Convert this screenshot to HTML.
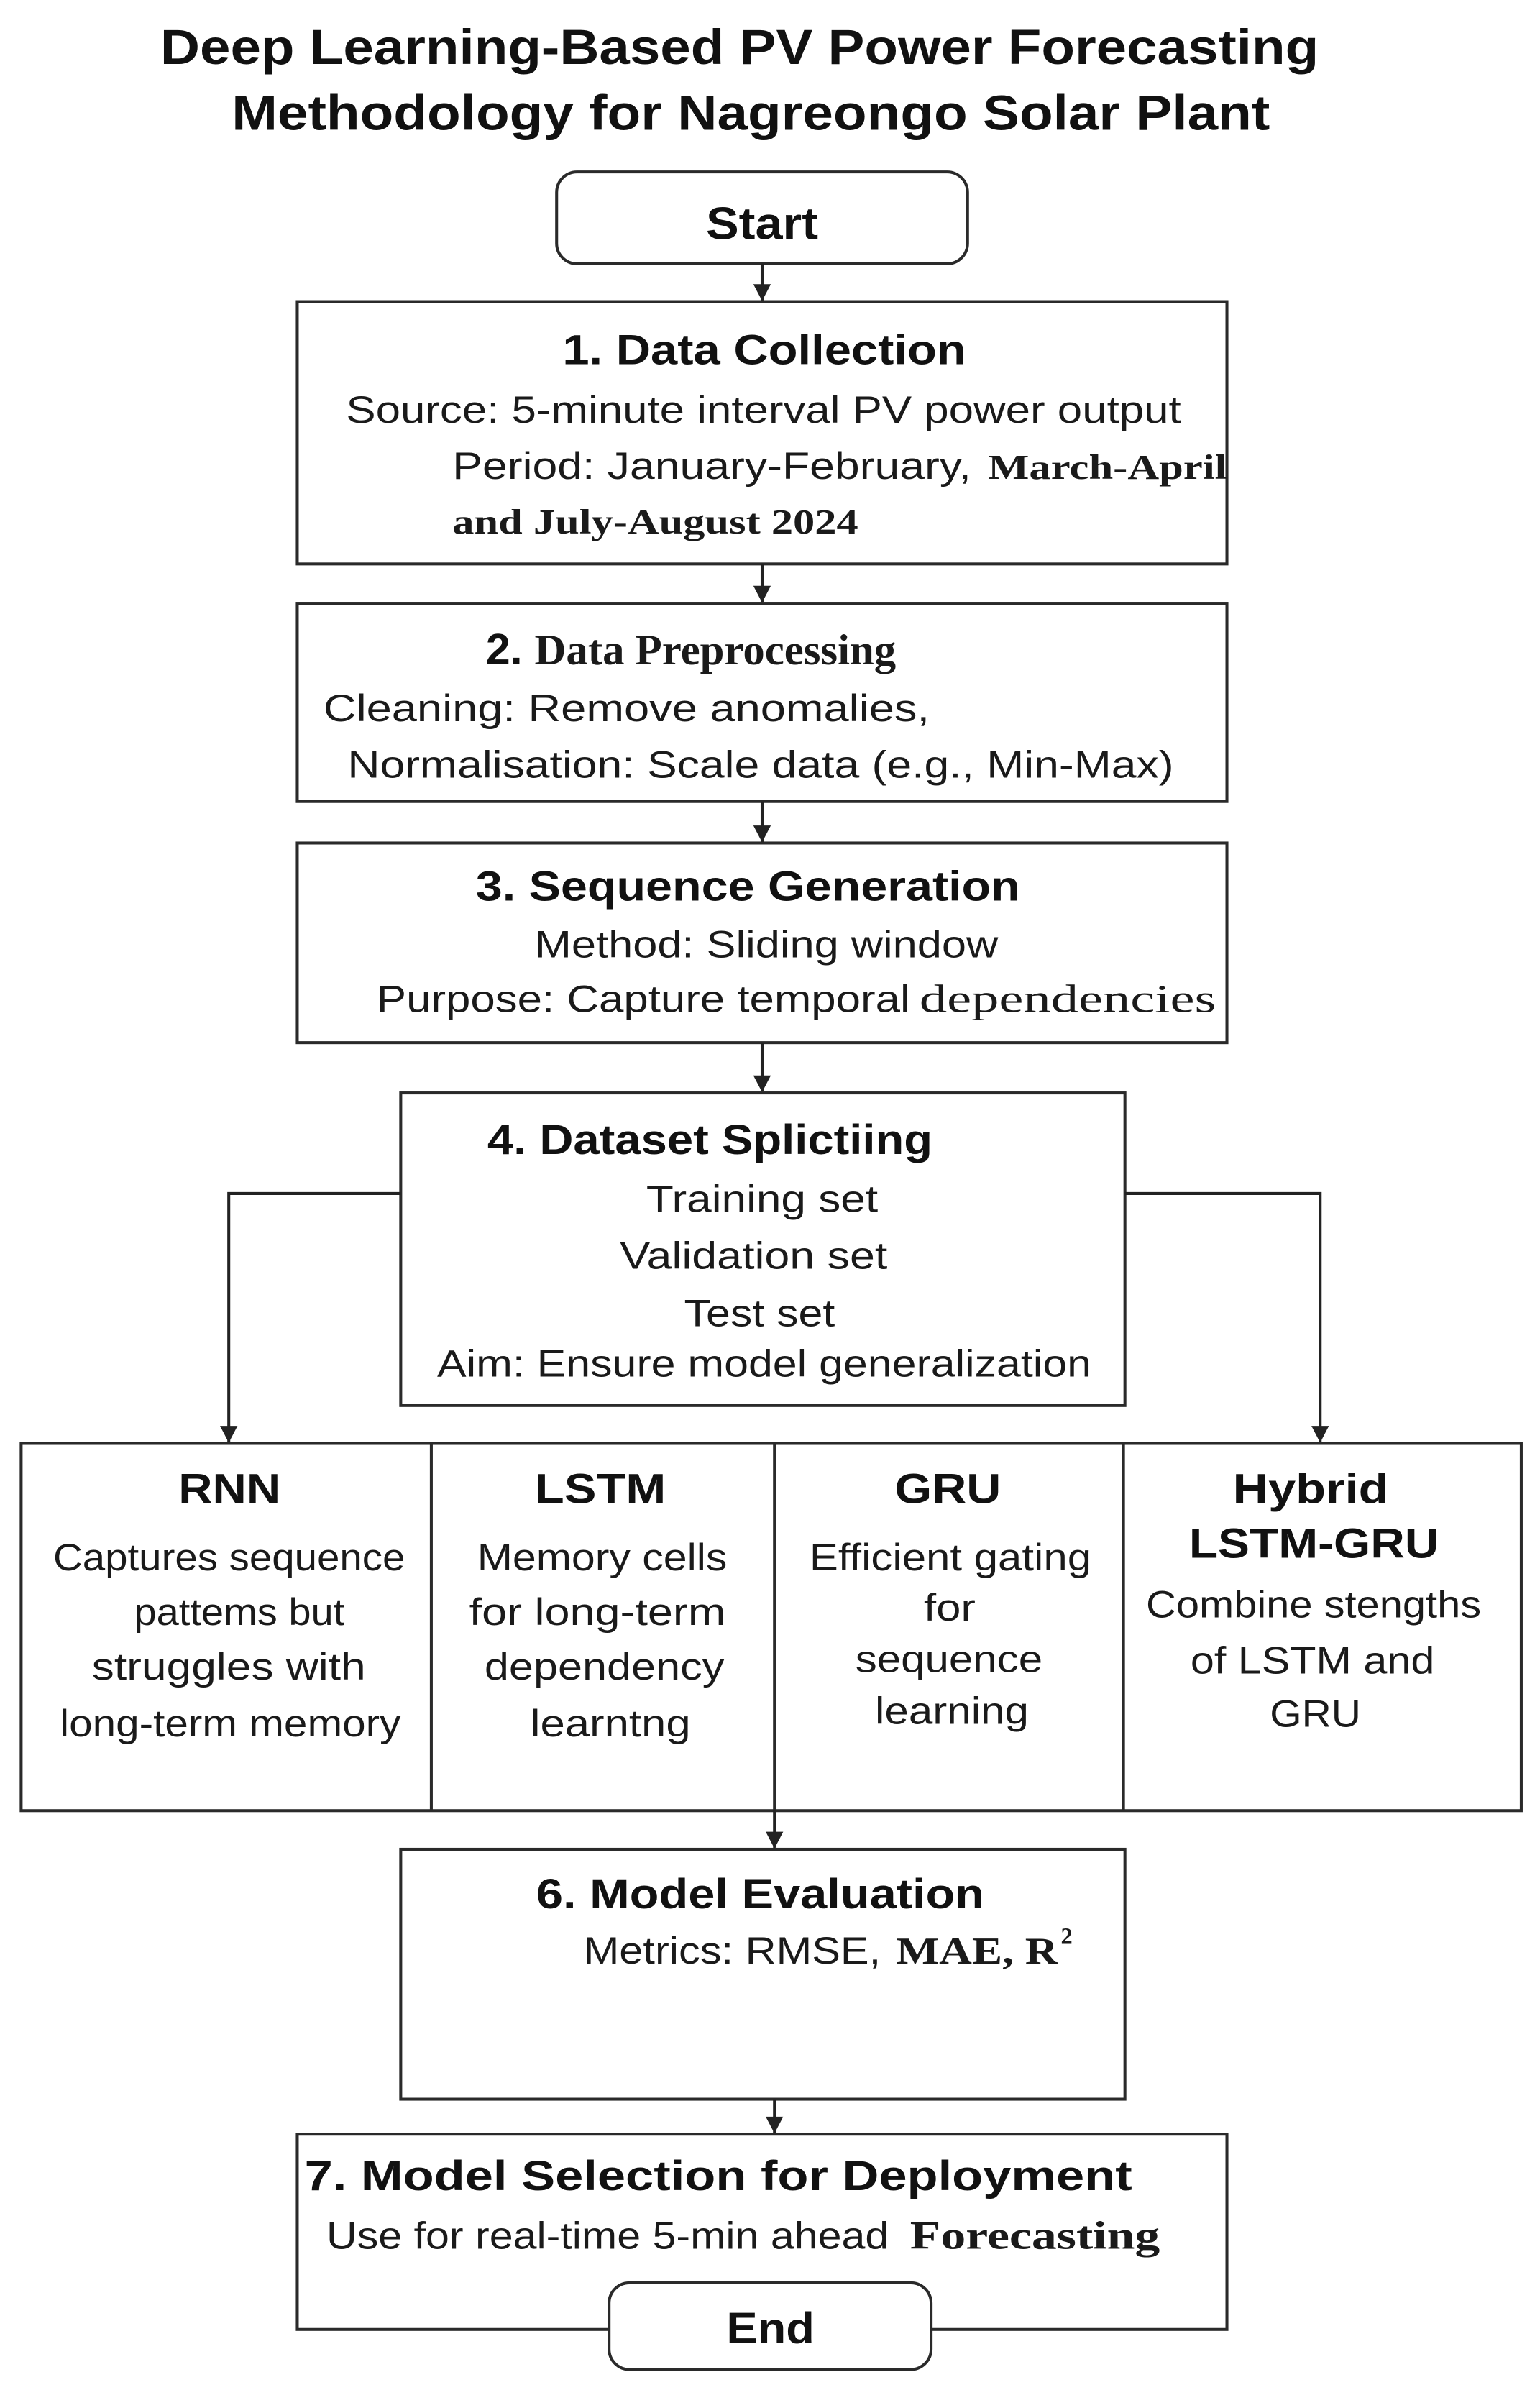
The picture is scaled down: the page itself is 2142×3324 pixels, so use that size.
<!DOCTYPE html>
<html><head><meta charset="utf-8"><style>
html,body{margin:0;padding:0;background:#fff;}
svg{display:block;}
.t{font-family:"Liberation Sans",sans-serif;font-weight:bold;fill:#111;}
.b{font-family:"Liberation Sans",sans-serif;fill:#1a1a1a;}
.s{font-family:"Liberation Serif",serif;fill:#1a1a1a;}
</style></head><body>
<svg width="2142" height="3324" viewBox="0 0 2142 3324" xmlns="http://www.w3.org/2000/svg">
<g transform="scale(1.01338)">
<g stroke="#2a2a2a" stroke-width="4" fill="none">
<rect x="764" y="236" width="564" height="126" rx="28"/>
<rect x="408" y="414" width="1276" height="360"/>
<rect x="408" y="828" width="1276" height="272"/>
<rect x="408" y="1157" width="1276" height="274"/>
<rect x="550" y="1500" width="994" height="429"/>
<rect x="29" y="1981" width="2059" height="504"/>
<line x1="592" y1="1981" x2="592" y2="2485"/>
<line x1="1063" y1="1981" x2="1063" y2="2485"/>
<line x1="1542" y1="1981" x2="1542" y2="2485"/>
<rect x="550" y="2538" width="994" height="343"/>
<rect x="408" y="2929" width="1276" height="268"/>
</g>
<rect x="836" y="3133" width="442" height="119" rx="28" fill="#fff" stroke="#2a2a2a" stroke-width="4"/>
<g stroke="#222" stroke-width="4" fill="none">
<path d="M1046 362 V412" /><path d="M1046 774 V826"/><path d="M1046 1100 V1155"/><path d="M1046 1431 V1498"/>
<path d="M550 1638 H314 V1979"/><path d="M1544 1638 H1812 V1979"/>
<path d="M1063 2485 V2536"/><path d="M1063 2881 V2927"/>
</g>
<g fill="#222">
<path d="M1034 390 L1058 390 L1046 413 z"/><path d="M1034 804 L1058 804 L1046 827 z"/><path d="M1034 1133 L1058 1133 L1046 1156 z"/><path d="M1034 1476 L1058 1476 L1046 1499 z"/>
<path d="M302 1957 L326 1957 L314 1980 z"/><path d="M1800 1957 L1824 1957 L1812 1980 z"/>
<path d="M1051 2514 L1075 2514 L1063 2537 z"/><path d="M1051 2905 L1075 2905 L1063 2928 z"/>
</g>
<text class="t" x="220" y="88" font-size="68" textLength="1590" lengthAdjust="spacingAndGlyphs">Deep Learning-Based PV Power Forecasting</text>
<text class="t" x="318" y="178" font-size="68" textLength="1425" lengthAdjust="spacingAndGlyphs">Methodology for Nagreongo Solar Plant</text>
<text class="t" x="969" y="328" font-size="62" textLength="154" lengthAdjust="spacingAndGlyphs">Start</text>
<text class="t" x="772" y="500" font-size="58" textLength="554" lengthAdjust="spacingAndGlyphs">1. Data Collection</text>
<text class="b" x="475" y="580" font-size="52" textLength="1146" lengthAdjust="spacingAndGlyphs">Source: 5-minute interval PV power output</text>
<text class="b" x="621" y="657" font-size="52" textLength="712" lengthAdjust="spacingAndGlyphs">Period: January-February,</text>
<text class="s" x="1356" y="657" font-size="48" font-weight="bold" textLength="328" lengthAdjust="spacingAndGlyphs">March-April</text>
<text class="s" x="621" y="732" font-size="48" font-weight="bold" textLength="557" lengthAdjust="spacingAndGlyphs">and July-August 2024</text>
<text x="667" y="912" font-size="60"><tspan class="t">2. </tspan><tspan class="s" font-weight="600">Data Preprocessing</tspan></text>
<text class="b" x="444" y="990" font-size="52" textLength="832" lengthAdjust="spacingAndGlyphs">Cleaning: Remove anomalies,</text>
<text class="b" x="477" y="1067" font-size="52" textLength="1134" lengthAdjust="spacingAndGlyphs">Normalisation: Scale data (e.g., Min-Max)</text>
<text class="t" x="653" y="1236" font-size="58" textLength="747" lengthAdjust="spacingAndGlyphs">3. Sequence Generation</text>
<text class="b" x="734" y="1314" font-size="52" textLength="636" lengthAdjust="spacingAndGlyphs">Method: Sliding window</text>
<text class="b" x="517" y="1389" font-size="52" textLength="732" lengthAdjust="spacingAndGlyphs">Purpose: Capture temporal</text>
<text class="s" x="1262" y="1389" font-size="54" textLength="407" lengthAdjust="spacingAndGlyphs">dependencies</text>
<text class="t" x="669" y="1584" font-size="58" textLength="611" lengthAdjust="spacingAndGlyphs">4. Dataset Splictiing</text>
<text class="b" x="887" y="1663" font-size="52" textLength="318" lengthAdjust="spacingAndGlyphs">Training set</text>
<text class="b" x="851" y="1741" font-size="52" textLength="367" lengthAdjust="spacingAndGlyphs">Validation set</text>
<text class="b" x="939" y="1820" font-size="52" textLength="207" lengthAdjust="spacingAndGlyphs">Test set</text>
<text class="b" x="600" y="1889" font-size="52" textLength="898" lengthAdjust="spacingAndGlyphs">Aim: Ensure model generalization</text>
<text class="t" x="245" y="2063" font-size="58" textLength="140" lengthAdjust="spacingAndGlyphs">RNN</text>
<text class="t" x="734" y="2063" font-size="58" textLength="180" lengthAdjust="spacingAndGlyphs">LSTM</text>
<text class="t" x="1228" y="2063" font-size="58" textLength="146" lengthAdjust="spacingAndGlyphs">GRU</text>
<text class="t" x="1692" y="2063" font-size="58" textLength="214" lengthAdjust="spacingAndGlyphs">Hybrid</text>
<text class="t" x="1632" y="2138" font-size="58" textLength="343" lengthAdjust="spacingAndGlyphs">LSTM-GRU</text>
<text class="b" x="73" y="2155" font-size="52" textLength="483" lengthAdjust="spacingAndGlyphs">Captures sequence</text>
<text class="b" x="184" y="2230" font-size="52" textLength="289" lengthAdjust="spacingAndGlyphs">pattems but</text>
<text class="b" x="126" y="2305" font-size="52" textLength="376" lengthAdjust="spacingAndGlyphs">struggles with</text>
<text class="b" x="82" y="2383" font-size="52" textLength="468" lengthAdjust="spacingAndGlyphs">long-term memory</text>
<text class="b" x="655" y="2155" font-size="52" textLength="343" lengthAdjust="spacingAndGlyphs">Memory cells</text>
<text class="b" x="644" y="2230" font-size="52" textLength="352" lengthAdjust="spacingAndGlyphs">for long-term</text>
<text class="b" x="665" y="2305" font-size="52" textLength="329" lengthAdjust="spacingAndGlyphs">dependency</text>
<text class="b" x="728" y="2383" font-size="52" textLength="220" lengthAdjust="spacingAndGlyphs">learntng</text>
<text class="b" x="1111" y="2155" font-size="52" textLength="387" lengthAdjust="spacingAndGlyphs">Efficient gating</text>
<text class="b" x="1268" y="2224" font-size="52" textLength="71" lengthAdjust="spacingAndGlyphs">for</text>
<text class="b" x="1174" y="2295" font-size="52" textLength="257" lengthAdjust="spacingAndGlyphs">sequence</text>
<text class="b" x="1201" y="2366" font-size="52" textLength="211" lengthAdjust="spacingAndGlyphs">learning</text>
<text class="b" x="1573" y="2220" font-size="52" textLength="460" lengthAdjust="spacingAndGlyphs">Combine stengths</text>
<text class="b" x="1634" y="2297" font-size="52" textLength="335" lengthAdjust="spacingAndGlyphs">of LSTM and</text>
<text class="b" x="1743" y="2370" font-size="52" textLength="125" lengthAdjust="spacingAndGlyphs">GRU</text>
<text class="t" x="736" y="2619" font-size="58" textLength="615" lengthAdjust="spacingAndGlyphs">6. Model Evaluation</text>
<text class="b" x="801" y="2695" font-size="52" textLength="408" lengthAdjust="spacingAndGlyphs">Metrics: RMSE,</text>
<text class="s" x="1230" y="2695" font-size="52" font-weight="bold" textLength="222" lengthAdjust="spacingAndGlyphs">MAE, R</text>
<text class="s" x="1456" y="2668" font-size="32" font-weight="bold">2</text>
<text class="t" x="418" y="3006" font-size="58" textLength="1136" lengthAdjust="spacingAndGlyphs">7. Model Selection for Deployment</text>
<text class="b" x="448" y="3086" font-size="52" textLength="772" lengthAdjust="spacingAndGlyphs">Use for real-time 5-min ahead</text>
<text class="s" x="1249" y="3086" font-size="54" font-weight="600" textLength="343" lengthAdjust="spacingAndGlyphs">Forecasting</text>
<text class="t" x="997" y="3216" font-size="60" textLength="121" lengthAdjust="spacingAndGlyphs">End</text>
</g>
</svg>
</body></html>
